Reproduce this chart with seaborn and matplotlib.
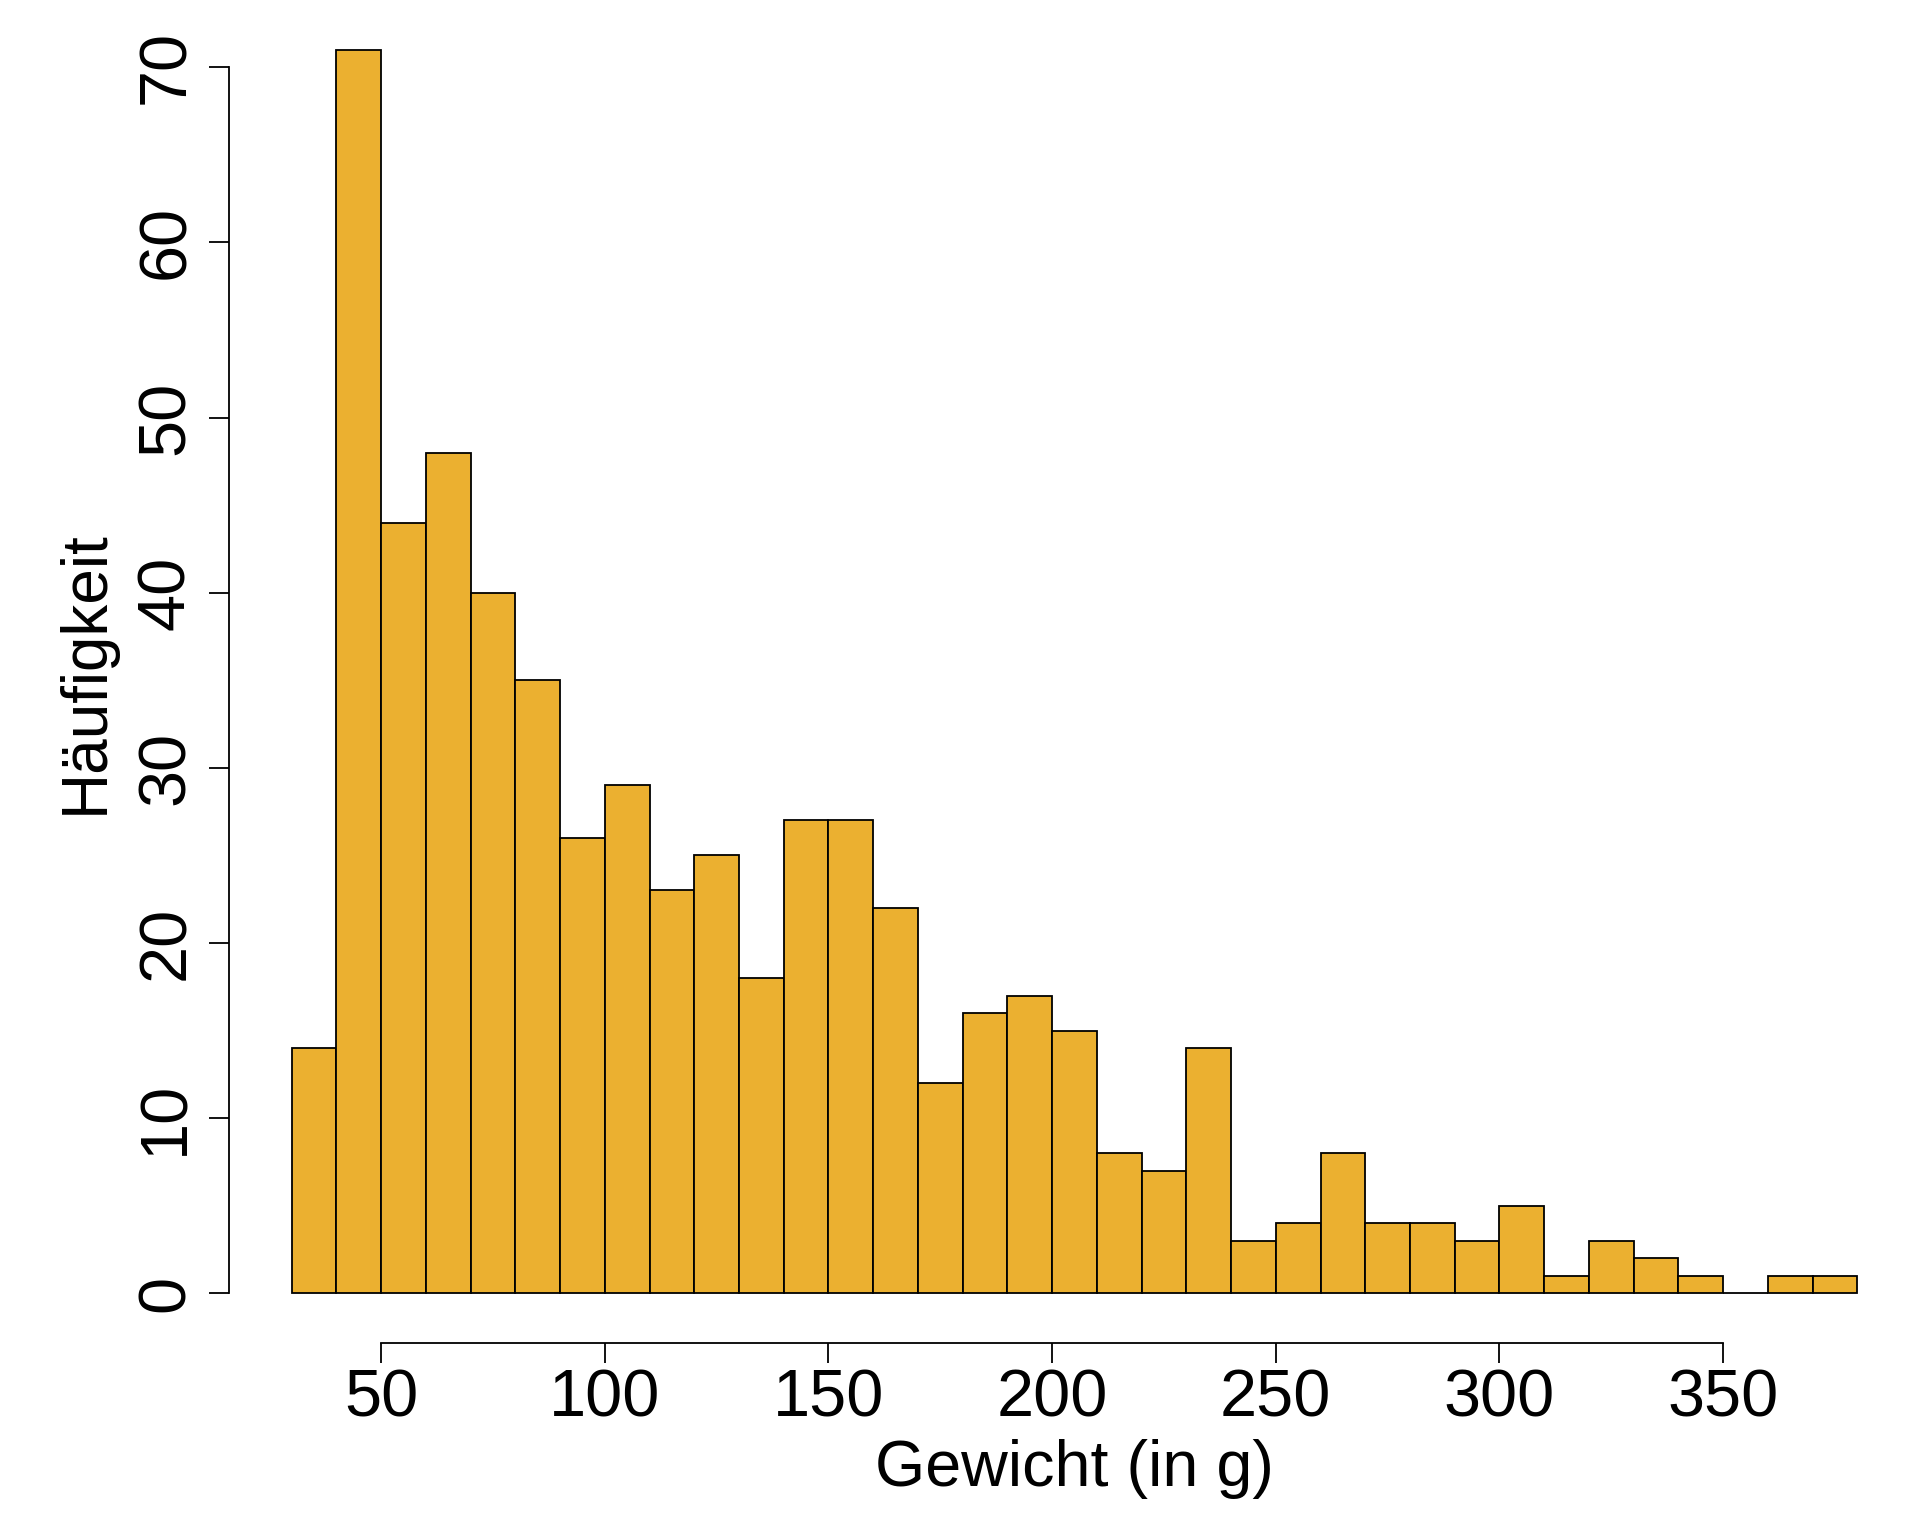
import matplotlib
matplotlib.use("Agg")
import matplotlib.pyplot as plt
import seaborn as sns
import numpy as np

# Histogram counts (bin width 10 g, 30 to 380 g)
bin_edges = list(range(30, 390, 10))
counts = [14, 71, 44, 48, 40, 35, 26, 29, 23, 25, 18, 27, 27, 22, 12, 16, 17,
          15, 8, 7, 14, 3, 4, 8, 4, 4, 3, 5, 1, 3, 2, 1, 0, 1, 1]
x_ticks = [50, 100, 150, 200, 250, 300, 350]
y_ticks = [0, 10, 20, 30, 40, 50, 60, 70]

sns.set_style("white")
plt.rcParams["font.family"] = ["Liberation Sans", "DejaVu Sans"]

centers = [e + 5 for e in bin_edges[:-1]]

fig = plt.figure(figsize=(19.2, 15.36), dpi=100)
ax = fig.add_axes([229 / 1920, 1 - 1343 / 1536, 1 - 229 / 1920, 1343 / 1536])

sns.histplot(x=centers, weights=counts, bins=bin_edges, color="#EBB030",
             edgecolor="black", linewidth=1.3, alpha=1, ax=ax)

ax.set_xlim(16, 394)
ax.set_ylim(-2.84, 73.84)

for side in ["top", "right"]:
    ax.spines[side].set_visible(False)
ax.spines["left"].set_bounds(0, 70)
ax.spines["bottom"].set_bounds(50, 350)
for side in ["left", "bottom"]:
    ax.spines[side].set_linewidth(1.3)
    ax.spines[side].set_color("black")

ax.set_xticks(x_ticks)
ax.set_yticks(y_ticks)
ax.tick_params(axis="both", direction="out", length=14.5, width=1.3,
               labelsize=48, colors="black")
ax.tick_params(axis="x", pad=4, bottom=True)
ax.tick_params(axis="y", pad=8, left=True)
plt.setp(ax.get_yticklabels(), rotation=90, va="center")

ax.set_xlabel("Gewicht (in g)", fontsize=46.5, color="black")
ax.set_ylabel("Häufigkeit", fontsize=46, color="black")
ax.xaxis.set_label_coords(0.5, (1343 - 1469) / 1343)
ax.xaxis.label.set_va("center")
ax.yaxis.set_label_coords((86 - 229) / 1691, 0.5 + (1343 / 2 - 672) / 1343)
ax.yaxis.label.set_va("center")

fig.savefig("out.png", dpi=100, facecolor="white")
